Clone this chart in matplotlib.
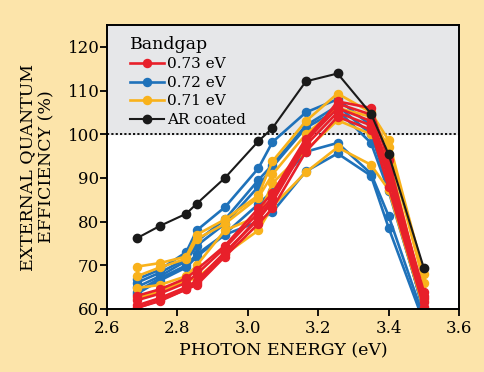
import numpy as np
import matplotlib
matplotlib.use('Agg')
import matplotlib.pyplot as plt

plt.rcParams['font.family'] = ['DejaVu Serif']

# photon energy (eV) of the measured points
energy = [2.685, 2.75, 2.825, 2.855, 2.935, 3.03, 3.07, 3.165, 3.255, 3.35, 3.40, 3.50]

# EQE (%) curves, 0.73 eV bandgap
red_curves = [
    [60.3, 61.8, 64.5, 65.5, 72.0, 79.5, 83.0, 96.0, 104.0, 101.0, 88.0, 60.5],
    [60.8, 62.5, 65.0, 66.5, 73.0, 80.5, 84.5, 97.5, 105.0, 102.0, 90.0, 61.5],
    [62.0, 63.5, 66.0, 68.0, 74.0, 82.0, 85.5, 98.5, 106.0, 103.0, 91.0, 62.5],
    [63.0, 64.5, 67.0, 69.0, 74.5, 83.0, 86.5, 99.0, 107.0, 104.5, 92.0, 64.0],
    [60.2, 62.0, 64.5, 66.0, 72.5, 81.0, 85.0, 98.0, 107.5, 106.0, 94.0, 63.0],
]
# 0.72 eV bandgap
blue_curves = [
    [66.8, 69.0, 73.0, 78.0, 83.3, 92.2, 98.2, 105.0, 108.0, 102.0, 90.0, 59.0],
    [66.0, 68.3, 71.5, 75.5, 80.5, 89.5, 93.0, 102.0, 106.5, 100.0, 88.0, 59.5],
    [65.0, 67.5, 71.0, 74.5, 79.5, 88.0, 92.5, 101.5, 105.5, 98.0, 87.0, 60.0],
    [64.0, 67.0, 70.0, 72.5, 77.2, 84.0, 87.0, 96.0, 98.0, 91.0, 81.3, 58.0],
    [63.5, 66.5, 69.5, 72.0, 77.0, 80.0, 82.2, 91.5, 95.6, 90.5, 78.6, 57.0],
]
# 0.71 eV bandgap
orange_curves = [
    [69.7, 70.5, 72.0, 77.0, 80.5, 86.0, 93.8, 103.0, 109.3, 105.0, 98.6, 68.0],
    [67.5, 69.5, 71.5, 76.0, 79.5, 85.5, 90.8, 100.0, 106.0, 104.0, 97.0, 66.0],
    [64.8, 65.5, 67.5, 70.0, 78.0, 81.2, 88.8, 96.3, 103.2, 100.0, 95.0, 62.0],
    [62.5, 64.0, 66.5, 67.0, 72.5, 78.0, 83.5, 91.3, 97.0, 93.0, 87.3, 60.0],
]
# anti-reflection coated cell
ar_coated = [76.2, 79.0, 81.8, 84.1, 90.0, 98.4, 101.4, 112.1, 113.9, 104.7, 95.4, 69.4]

bg = '#FCE4AA'
fig = plt.figure(figsize=(4.85, 3.72), dpi=100, facecolor=bg)
ax = fig.add_axes([0.2206, 0.1694, 0.7258, 0.7634])

ax.axhspan(100, 125, color='#E6E7E9', zorder=0)
ax.axhline(100, color='black', ls=(0, (1.2, 1.2)), lw=1.3, zorder=1)

lw, ms = 1.9, 5.8
for curves, col, lab in [(blue_curves, '#1F72BA', '0.72 eV'),
                         (orange_curves, '#F9B21B', '0.71 eV'),
                         (red_curves, '#E8202A', '0.73 eV')]:
    for i, c in enumerate(curves):
        ax.plot(energy, c, '-o', color=col, lw=lw, ms=ms, zorder=2,
                label=lab if i == 0 else None)
ax.plot(energy, ar_coated, '-o', color='#1A1A1A', lw=1.5, ms=6, zorder=3, label='AR coated')

handles, labels = ax.get_legend_handles_labels()
order = [labels.index(s) for s in ['0.73 eV', '0.72 eV', '0.71 eV', 'AR coated']]
leg = ax.legend([handles[i] for i in order], [labels[i] for i in order],
                title='Bandgap', loc='upper left', frameon=False, fontsize=11,
                title_fontsize=12.5, handlelength=2.2, handletextpad=0.2,
                labelspacing=0.3, borderaxespad=0.3, bbox_to_anchor=(0.035, 1.0))
leg._legend_box.align = 'left'

ax.set_xlim(2.6, 3.6)
ax.set_ylim(60, 125)
ax.set_xticks(np.arange(2.6, 3.61, 0.2))
ax.set_yticks(np.arange(60, 121, 10))
ax.set_xticklabels(['%.1f' % v for v in np.arange(2.6, 3.61, 0.2)])
ax.tick_params(direction='out', length=5, width=1.3, labelsize=12)
ax.tick_params(axis='x', pad=3)
ax.tick_params(axis='y', pad=0.5)
for s in ax.spines.values():
    s.set_linewidth(1.4)

ax.set_xlabel('PHOTON ENERGY (eV)', fontsize=12.5, labelpad=4)
ax.set_ylabel('EXTERNAL QUANTUM\nEFFICIENCY (%)', fontsize=12.5, linespacing=1.15)
ax.yaxis.set_label_coords(-0.148, 0.5)

fig.savefig('out.png', dpi=100, facecolor=bg)
